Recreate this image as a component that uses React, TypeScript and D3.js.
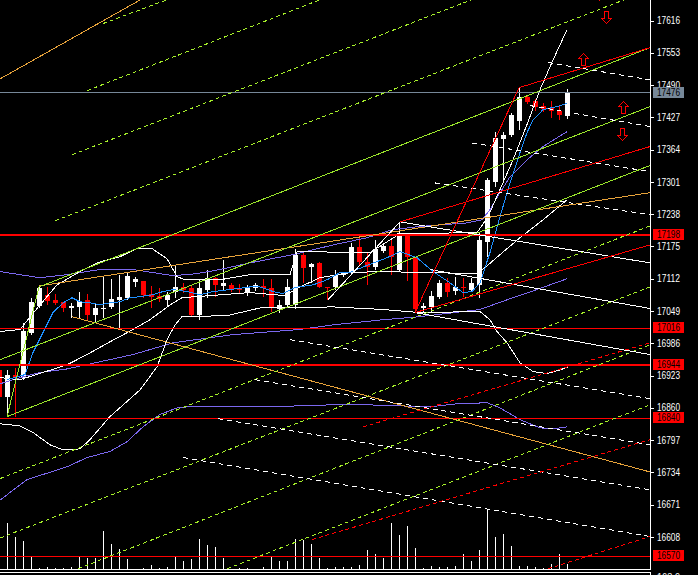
import React from 'react';
import * as d3 from 'd3';

const W = 698, H = 575;
const PLOT_R = 650, PLOT_B = 569;

// ---- candles (bar index = array index) ----
const opens = [16934,16882,16925,16919,17007,17059,17081,17071,17067,17054,17057,17071,17042,17052,17057,17071,17075,17106,17108,17083,17079,17071,17087,17096,17094,17042,17091,17114,17098,17100,17094,17087,17093,17098,17093,17052,17061,17061,17159,17135,17143,17096,17095,17120,17126,17173,17145,17135,17167,17175,17130,17196,17155,17055,17057,17077,17104,17089,17096,17091,17100,17184,17301,17385,17393,17420,17467,17459,17450,17446,17440,17430];
const highs = [16940,16934,16938,17026,17075,17100,17096,17083,17067,17065,17087,17083,17065,17116,17112,17120,17124,17116,17108,17098,17094,17087,17137,17104,17100,17110,17130,17116,17149,17104,17102,17100,17104,17112,17112,17071,17112,17171,17163,17143,17145,17096,17130,17124,17182,17198,17163,17188,17182,17192,17221,17202,17155,17065,17089,17110,17114,17116,17114,17114,17202,17309,17399,17399,17436,17485,17471,17463,17455,17459,17452,17483];
const lows = [16876,16843,16843,16915,17003,17055,17061,17061,17048,17036,17036,17032,17026,17036,17052,17012,17071,17096,17075,17055,17067,17057,17075,17085,17038,17032,17075,17077,17091,17087,17085,17079,17089,17077,17048,17046,17055,17052,17104,17104,17094,17071,17091,17116,17122,17139,17100,17130,17163,17120,17126,17108,17046,17048,17046,17073,17077,17081,17077,17087,17075,17155,17291,17301,17389,17403,17453,17440,17438,17426,17422,17424];
const closes = [16882,16925,16921,17011,17067,17094,17069,17065,17055,17059,17069,17042,17054,17055,17073,17077,17118,17112,17081,17077,17073,17081,17096,17091,17042,17094,17114,17100,17104,17091,17091,17094,17100,17093,17054,17061,17096,17159,17133,17141,17096,17093,17120,17124,17173,17145,17135,17171,17175,17155,17202,17155,17052,17059,17079,17104,17087,17096,17093,17104,17188,17305,17387,17393,17432,17467,17457,17448,17444,17440,17432,17477];
const volumes = [12,46,32,28,13,1,2,1,1,2,13,11,11,38,25,20,10,0.5,1,4,1,2,13,8,10,30,24,22,11,0.5,1,1,0.3,2,13,8,8,30,29,25,11,1,2,2,2,4,19,15,11,46,34,43,21,1,3,2,2,3,15,8,19,59,32,35,23,3,3,2,1,5,15,5];

// ---- price axis ----
const priceTicks = [17616,17553,17490,17427,17364,17301,17238,17175,17112,17049,16986,16923,16860,16797,16734,16671,16608];
const redLevels = [17198,17016,16944,16840,16570];
const boldLevels = [17198,16944];
const bidPrice = 17476;

type P = [number, number];
// ---- indicators [bar, price] ----
const bbUpper: P[] = [[0.06,17009],[2.56,17013],[5.06,17061],[7.19,17100],[10.06,17126],[12.56,17145],[15.06,17155],[17.19,17171],[19.06,17171],[20.94,17151],[22.19,17116],[23.19,17110],[27.56,17110],[31.31,17120],[36.31,17120],[37.19,17165],[46.31,17163],[50.06,17200],[59.69,17202],[61.06,17233],[62.56,17286],[64.19,17344],[65.94,17413],[67.56,17481],[69.19,17539],[70.94,17598]];
const bbMiddle: P[] = [[0.06,16919],[2.56,16915],[8.44,16944],[10.94,16964],[13.81,16989],[16.69,17013],[18.81,17032],[21.31,17061],[22.81,17075],[31.31,17085],[35.69,17079],[37.56,17096],[40.06,17114],[43.81,17124],[47.56,17126],[59.69,17122],[60.94,17137],[62.56,17159],[65.06,17192],[67.94,17227],[70.94,17266]];
const bbLower: P[] = [[0.06,16829],[2.56,16825],[4.19,16812],[6.31,16788],[7.94,16778],[10.06,16780],[11.31,16798],[13.81,16843],[17.56,16895],[19.69,16940],[20.94,16993],[21.94,17022],[22.81,17038],[28.44,17040],[32.56,17055],[41.69,17057],[47.94,17052],[52.56,17046],[60.06,17048],[61.31,17032],[62.19,17009],[63.44,16987],[65.06,16948],[66.69,16931],[68.44,16927],[70.06,16934],[71.06,16940]];
const maFast: P[] = [[0.94,16915],[3.19,16925],[4.19,16968],[5.44,17007],[6.69,17046],[7.94,17065],[9.06,17075],[10.06,17067],[11.31,17065],[12.56,17061],[13.81,17065],[15.06,17067],[16.31,17075],[17.56,17077],[19.19,17081],[20.44,17087],[21.69,17091],[23.44,17087],[25.06,17081],[26.69,17087],[28.81,17091],[31.31,17096],[32.56,17096],[34.19,17087],[35.44,17083],[36.94,17095],[39.19,17100],[40.94,17110],[42.56,17124],[43.81,17124],[45.44,17135],[48.44,17153],[50.06,17165],[52.19,17153],[54.19,17126],[56.31,17104],[57.94,17085],[59.06,17087],[60.06,17104],[61.31,17163],[62.56,17233],[63.81,17299],[65.06,17358],[65.94,17397],[66.69,17422],[67.94,17442],[69.69,17448],[70.94,17454]];
const maSlowA: P[] = [[0.06,17126],[2.56,17120],[5.06,17114],[8.44,17120],[12.56,17130],[16.69,17130],[19.19,17124],[21.69,17118],[24.69,17122],[27.56,17130],[31.31,17143],[36.69,17159],[41.69,17178],[45.94,17192],[49.19,17208],[52.56,17214],[58.44,17221],[60.31,17227],[61.31,17247],[62.56,17280],[63.81,17311],[65.94,17344],[67.94,17370],[69.69,17387],[70.94,17399]];
const maSlowB: P[] = [[0.06,16907],[2.56,16919],[5.06,16929],[8.44,16936],[12.56,16950],[16.69,16964],[21.69,16987],[29.19,17003],[37.56,17013],[41.69,17022],[47.94,17032],[52.56,17038],[60.06,17052],[64.19,17075],[67.19,17091],[70.94,17112]];
const maSlowC: P[] = [[0.06,16680],[3.44,16720],[8.44,16745],[10.94,16763],[13.81,16775],[15.94,16794],[17.94,16823],[20.06,16847],[22.19,16860],[23.44,16862],[33.44,16862],[41.69,16866],[45.94,16866],[53.81,16862],[57.19,16868],[60.94,16870],[62.56,16860],[65.06,16837],[67.56,16821],[69.19,16819],[70.94,16823]];

// ---- drawn objects [bar, price] ----
const greenSolidLines: P[][] = [
  [[4.94,17096],[81.31,17563]],
  [[0.06,16954],[81.31,17448]],
  [[0.94,16843],[81.31,17333]],
  [[0.94,16843],[4.94,17096]],
];
const greenDashedLines: P[][] = [
  [[12.94,17610],[27.56,17695]],
  [[10.94,17479],[45.06,17687]],
  [[9.06,17354],[62.56,17678]],
  [[6.94,17225],[81.31,17676]],
  [[0.06,16722],[81.31,17215]],
  [[0.06,16606],[81.31,17096]],
  [[9.81,16546],[81.31,16983]],
  [[28.44,16546],[81.31,16866]],
];
const whiteDashedLines: P[][] = [
  [[68.56,17534],[81.31,17500]],
  [[66.31,17450],[81.31,17409]],
  [[59.06,17377],[81.31,17321]],
  [[54.44,17299],[81.31,17237]],
  [[36.31,16993],[81.31,16878]],
  [[31.94,16915],[81.31,16788]],
  [[27.31,16839],[81.31,16700]],
  [[22.94,16763],[81.31,16609]],
];
const whiteSolidLines: P[][] = [
  [[50.06,17223],[81.31,17143]],
  [[53.81,17130],[81.31,17054]],
  [[51.94,17046],[81.31,16964]],
  [[41.06,17071],[50.06,17223]],
];
const redSolidLines: P[][] = [
  [[51.94,17046],[64.94,17485]],
  [[64.94,17485],[81.31,17563]],
  [[50.06,17223],[81.31,17370]],
  [[51.94,17046],[81.31,17178]],
];
const redDashedLines: P[][] = [
  [[45.44,16823],[81.31,16987]],
  [[39.06,16603],[81.31,16798]],
  [[68.56,16546],[81.31,16609]],
];
const orangeLines: P[][] = [
  [[0.06,17502],[20.06,17678]],
  [[4.94,17098],[81.31,17280]],
  [[9.06,17038],[81.31,16735]],
];
const upArrows: P[] = [[72.94,17541],[77.94,17448]];
const downArrows: P[] = [[75.81,17623],[77.81,17395],[74.9,17668]];

const GREEN = '#9ae62a';
const GREEN_DASH = '#a6f02a';
const RED = '#ff0000';
const ORANGE = '#e8a33a';
const PURPLE = '#7b68ee';
const BLUE = '#1e90ff';
const GREY = '#778899';

export default function App() {
  const x = d3.scaleLinear().domain([0, 71]).range([-0.5, 567.5]);
  const y = d3.scaleLinear().domain([16608, 17616]).range([537, 20.5]);
  const vy = d3.scaleLinear().domain([0, 60]).range([PLOT_B, PLOT_B - 60]);
  const line = d3.line<P>().x(d => x(d[0])).y(d => y(d[1]));
  const hy = (v: number) => Math.round(y(v)) + 0.5;

  const upPath = (cx: number, cy: number) =>
    `M${cx},${cy - 6}L${cx + 5},${cy - 1}L${cx + 2},${cy - 1}L${cx + 2},${cy + 6}L${cx - 2},${cy + 6}L${cx - 2},${cy - 1}L${cx - 5},${cy - 1}Z`;
  const downPath = (cx: number, cy: number) =>
    `M${cx},${cy + 6}L${cx + 5},${cy + 1}L${cx + 2},${cy + 1}L${cx + 2},${cy - 6}L${cx - 2},${cy - 6}L${cx - 2},${cy + 1}L${cx - 5},${cy + 1}Z`;

  const font = { fontFamily: 'Liberation Sans, Arial, sans-serif', fontSize: 10 };

  return (
    <svg width={W} height={H} style={{ position: 'fixed', left: 0, top: 0, background: '#000' }}>
      <defs>
        <clipPath id="plot"><rect x={0} y={0} width={PLOT_R} height={PLOT_B} /></clipPath>
      </defs>
      <rect x={0} y={0} width={W} height={H} fill="#000" />
      <g clipPath="url(#plot)">
        {/* candles */}
        <g shapeRendering="crispEdges">
          {opens.map((o, i) => {
            const c = closes[i];
            const bull = c >= o;
            const col = bull ? '#fff' : RED;
            const xc = x(i);
            const top = Math.round(y(Math.max(o, c)));
            const bot = Math.round(y(Math.min(o, c)));
            return (
              <g key={i}>
                <line x1={xc} x2={xc} y1={Math.round(y(highs[i]))} y2={Math.round(y(lows[i]))} stroke={col} strokeWidth={1} />
                <rect x={xc - 2.5} y={top} width={5} height={Math.max(1, bot - top)} fill={col} />
              </g>
            );
          })}
        </g>
        {/* volumes */}
        <g shapeRendering="crispEdges">
          {volumes.map((v, i) => (
            <line key={i} x1={x(i)} x2={x(i)} y1={PLOT_B} y2={Math.round(vy(v))} stroke="#fff" strokeWidth={1} />
          ))}
        </g>
        {/* indicators */}
        <g fill="none" strokeWidth={1} shapeRendering="crispEdges">
          <path d={line(maSlowC) || ''} stroke={PURPLE} />
          <path d={line(maSlowB) || ''} stroke={PURPLE} />
          <path d={line(maSlowA) || ''} stroke={PURPLE} />
          <path d={line(bbUpper) || ''} stroke="#fff" />
          <path d={line(bbMiddle) || ''} stroke="#fff" />
          <path d={line(bbLower) || ''} stroke="#fff" />
          <path d={line(maFast) || ''} stroke={BLUE} />
        </g>
        {/* horizontal levels */}
        <g shapeRendering="crispEdges">
          <line x1={0} x2={PLOT_R} y1={hy(bidPrice)} y2={hy(bidPrice)} stroke={GREY} />
          {redLevels.map(v => {
            const bold = boldLevels.includes(v);
            const yy = bold ? Math.round(y(v)) : hy(v);
            return <line key={v} x1={0} x2={PLOT_R} y1={yy} y2={yy} stroke={RED} strokeWidth={bold ? 2 : 1} />;
          })}
        </g>
        {/* drawn objects */}
        <g fill="none" strokeWidth={1} shapeRendering="crispEdges">
          {orangeLines.map((l, i) => <path key={'o' + i} d={line(l) || ''} stroke={ORANGE} />)}
          {greenSolidLines.map((l, i) => <path key={'g' + i} d={line(l) || ''} stroke={GREEN} />)}
          {greenDashedLines.map((l, i) => <path key={'gd' + i} d={line(l) || ''} stroke={GREEN_DASH} strokeDasharray="4,3" />)}
          {whiteDashedLines.map((l, i) => <path key={'wd' + i} d={line(l) || ''} stroke="#fff" strokeDasharray="5,4" />)}
          {whiteSolidLines.map((l, i) => <path key={'w' + i} d={line(l) || ''} stroke="#fff" />)}
          {redSolidLines.map((l, i) => <path key={'r' + i} d={line(l) || ''} stroke={RED} />)}
          {redDashedLines.map((l, i) => <path key={'rd' + i} d={line(l) || ''} stroke={RED} strokeDasharray="4,3" />)}
        </g>
        {/* arrows */}
        <g fill="#000" stroke={RED} strokeWidth={1} shapeRendering="crispEdges">
          {upArrows.map((a, i) => <path key={'u' + i} d={upPath(Math.round(x(a[0])) + 0.5, Math.round(y(a[1])) + 0.5)} />)}
          {downArrows.map((a, i) => <path key={'d' + i} d={downPath(Math.round(x(a[0])) + 0.5, Math.round(y(a[1])) + 0.5)} />)}
        </g>
      </g>
      {/* frame */}
      <g shapeRendering="crispEdges" stroke="#fff">
        <line x1={PLOT_R + 0.5} x2={PLOT_R + 0.5} y1={0} y2={PLOT_B + 0.5} />
        <line x1={0} x2={PLOT_R + 0.5} y1={PLOT_B + 0.5} y2={PLOT_B + 0.5} />
        <line x1={0} x2={PLOT_R + 0.5} y1={PLOT_B + 3.5} y2={PLOT_B + 3.5} />
        <line x1={PLOT_R + 0.5} x2={PLOT_R + 0.5} y1={PLOT_B + 3.5} y2={H} />
        <line x1={PLOT_R} x2={PLOT_R + 4} y1={PLOT_B + 6.5} y2={PLOT_B + 6.5} />
      </g>
      {/* axis ticks + labels */}
      <g>
        {priceTicks.map(v => (
          <g key={v}>
            <line x1={PLOT_R} x2={PLOT_R + 4} y1={hy(v)} y2={hy(v)} stroke="#fff" shapeRendering="crispEdges" />
            <text x={657} y={y(v) + 3.6} fill="#fff" textLength={23} lengthAdjust="spacingAndGlyphs" style={font}>{v}</text>
          </g>
        ))}
        <text x={657} y={581} fill="#fff" textLength={23} lengthAdjust="spacingAndGlyphs" style={font}>163.9</text>
      </g>
      {/* level boxes */}
      <g>
        <rect x={653} y={Math.round(y(bidPrice)) - 5} width={31} height={11} fill={GREY} />
        <text x={657} y={y(bidPrice) + 3.6} fill="#000" textLength={23} lengthAdjust="spacingAndGlyphs" style={font}>{bidPrice}</text>
        {redLevels.map(v => (
          <g key={v}>
            <rect x={653} y={Math.round(y(v)) - 6} width={31} height={11} fill={RED} />
            <text x={657} y={y(v) + 3} fill="#000" textLength={23} lengthAdjust="spacingAndGlyphs" style={font}>{v}</text>
          </g>
        ))}
      </g>
    </svg>
  );
}
